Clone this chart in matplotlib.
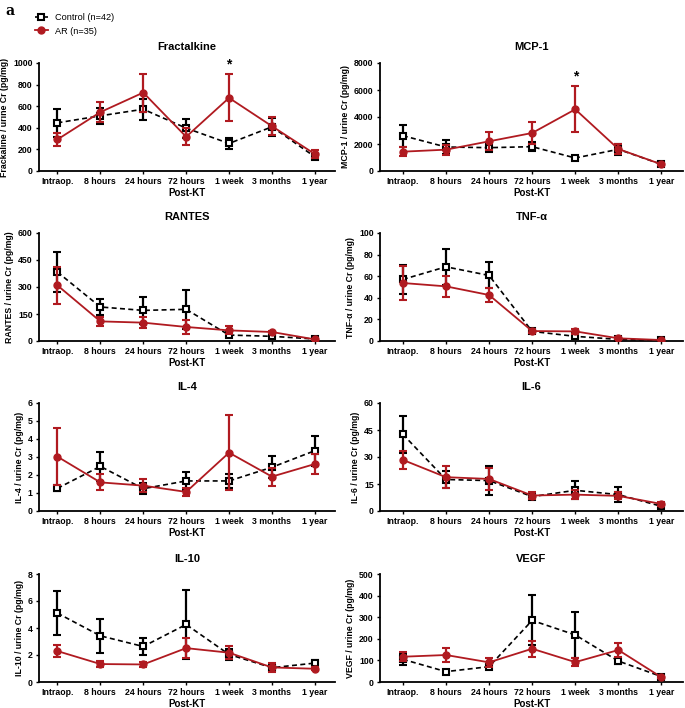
import matplotlib
matplotlib.use("Agg")
import matplotlib.pyplot as plt
from matplotlib.lines import Line2D
import numpy as np

plt.rcParams['font.family'] = ['Liberation Sans', 'DejaVu Sans']

categories = ["Intraop.", "8 hours", "24 hours", "72 hours", "1 week", "3 months", "1 year"]

# Fractalkine
frac_ctrl = [446, 511, 572, 397, 255, 409, 132]
frac_ctrl_err = [130, 75, 99, 89, 53, 85, 20]
frac_ar = [292, 545, 726, 317, 677, 415, 157]
frac_ar_err = [62, 90, 176, 77, 218, 85, 37]
# MCP-1
mcp_ctrl = [2617, 1778, 1728, 1802, 963, 1605, 494]
mcp_ctrl_err = [815, 540, 350, 320, 100, 420, 80]
mcp_ar = [1432, 1580, 2198, 2815, 4568, 1630, 494]
mcp_ar_err = [350, 380, 670, 790, 1700, 400, 60]
# RANTES
rantes_ctrl = [383, 189, 170, 176, 33, 26, 11]
rantes_ctrl_err = [110, 46, 74, 109, 8, 5, 3]
rantes_ar = [309, 109, 102, 78, 59, 50, 9]
rantes_ar_err = [102, 25, 31, 37, 22, 8, 3]
# TNF-a
tnf_ctrl = [57, 68.7, 60.7, 8.9, 4.3, 1.5, 0.6]
tnf_ctrl_err = [13.5, 16.5, 12, 1.5, 1, 0.5, 0.3]
tnf_ar = [53.7, 50.6, 42.6, 9.2, 8.9, 2.5, 0.9]
tnf_ar_err = [16, 9.5, 6.5, 1.5, 2, 0.8, 0.4]
# IL-4
il4_ctrl = [1.26, 2.48, 1.24, 1.67, 1.67, 2.43, 3.35]
il4_ctrl_err = [0.15, 0.8, 0.3, 0.52, 0.4, 0.6, 0.83]
il4_ar = [3.02, 1.59, 1.41, 1.06, 3.24, 1.91, 2.61]
il4_ar_err = [1.6, 0.45, 0.35, 0.2, 2.1, 0.5, 0.57]
# IL-6
il6_ctrl = [42.6, 17.5, 16.9, 8.0, 11.5, 9.1, 2.6]
il6_ctrl_err = [10.4, 4.5, 8, 1.5, 5, 4, 0.6]
il6_ar = [28.4, 18.8, 17.8, 8.6, 9.1, 8.4, 3.9]
il6_ar_err = [5, 6, 6, 2, 2.5, 2, 1]
# IL-10
il10_ctrl = [5.1, 3.42, 2.63, 4.26, 2.04, 1.06, 1.4]
il10_ctrl_err = [1.63, 1.26, 0.6, 2.55, 0.4, 0.15, 0.2]
il10_ar = [2.29, 1.33, 1.3, 2.51, 2.17, 1.08, 0.98]
il10_ar_err = [0.42, 0.25, 0.2, 0.74, 0.5, 0.35, 0.1]
# VEGF
vegf_ctrl = [105, 48, 71, 285, 218, 97, 25]
vegf_ctrl_err = [25, 8, 10, 116, 108, 15, 5]
vegf_ar = [117, 125, 91, 154, 92, 148, 22]
vegf_ar_err = [21, 33, 20, 38, 18, 34, 5]

panels = [
    ("Fractalkine", "Frackaline / urine Cr (pg/mg)", frac_ctrl, frac_ctrl_err, frac_ar, frac_ar_err, [0, 200, 400, 600, 800, 1000], (4, 985)),
    ("MCP-1", "MCP-1 / urine Cr (pg/mg)", mcp_ctrl, mcp_ctrl_err, mcp_ar, mcp_ar_err, [0, 2000, 4000, 6000, 8000], (4, 7000)),
    ("RANTES", "RANTES / urine Cr (pg/mg)", rantes_ctrl, rantes_ctrl_err, rantes_ar, rantes_ar_err, [0, 150, 300, 450, 600], None),
    ("TNF-α", "TNF-α / urine Cr (pg/mg)", tnf_ctrl, tnf_ctrl_err, tnf_ar, tnf_ar_err, [0, 20, 40, 60, 80, 100], None),
    ("IL-4", "IL-4 / urine Cr (pg/mg)", il4_ctrl, il4_ctrl_err, il4_ar, il4_ar_err, [0, 1, 2, 3, 4, 5, 6], None),
    ("IL-6", "IL-6 / urine Cr (pg/mg)", il6_ctrl, il6_ctrl_err, il6_ar, il6_ar_err, [0, 15, 30, 45, 60], None),
    ("IL-10", "IL-10 / urine Cr (pg/mg)", il10_ctrl, il10_ctrl_err, il10_ar, il10_ar_err, [0, 2, 4, 6, 8], None),
    ("VEGF", "VEGF / urine Cr (pg/mg)", vegf_ctrl, vegf_ctrl_err, vegf_ar, vegf_ar_err, [0, 100, 200, 300, 400, 500], None),
]

RED = "#b01a20"
W, H = 685, 708
fig = plt.figure(figsize=(W / 100, H / 100), dpi=100)

row_bottoms = [171, 341, 511, 682]
ax_h = 108
x = np.arange(len(categories))

for i, (title, ylab, c, ce, a, ae, yticks, star) in enumerate(panels):
    row, col = divmod(i, 2)
    if col == 0:
        left_px, right_px, xl = 39, 335, (-0.43, 6.47)
    else:
        left_px, right_px, xl = 380, 683, (-0.53, 6.5)
    bottom_px = row_bottoms[row]
    ax = fig.add_axes([left_px / W, 1 - bottom_px / H, (right_px - left_px) / W, ax_h / H])
    ax.errorbar(x, c, yerr=ce, color="black", ls=(0, (3, 2)), lw=1.2, marker="s", ms=5,
                mfc="white", mec="black", mew=1.5, ecolor="black", elinewidth=1.6,
                capsize=3, capthick=1.5, zorder=3)
    ax.errorbar(x, a, yerr=ae, color=RED, ls="-", lw=1.3, marker="o", ms=5,
                mfc=RED, mec=RED, ecolor=RED, elinewidth=1.6,
                capsize=3, capthick=1.5, zorder=4)
    ax.set_xlim(*xl)
    ax.set_ylim(yticks[0], yticks[-1])
    ax.set_yticks(yticks)
    ax.set_yticklabels([str(t) for t in yticks], fontsize=6.3, fontweight="bold")
    ax.set_xticks(x)
    ax.set_xticklabels(categories, fontsize=6.3, fontweight="bold")
    ax.tick_params(axis="both", length=2.5, width=1, pad=2, direction="out")
    for s in ("top", "right"):
        ax.spines[s].set_visible(False)
    for s in ("left", "bottom"):
        ax.spines[s].set_linewidth(1.3)
    ax.set_title(title, fontsize=8, fontweight="bold", pad=9)
    ax.set_ylabel(ylab, fontsize=6.3, fontweight="bold", labelpad=3)
    ax.set_xlabel("Post-KT", fontsize=7, fontweight="bold", labelpad=1)
    if star is not None:
        ax.text(star[0], star[1], "*", ha="center", va="center", fontsize=10, fontweight="bold",
                clip_on=False)

fig.text(5 / W, 1 - 11 / H, "a", fontsize=10, fontweight="bold", family="DejaVu Serif",
         va="center", ha="left")

handles = [
    Line2D([], [], color="black", ls=(0, (2, 1)), lw=1.2, marker="s", ms=4.5, mfc="white", mec="black", mew=1.5),
    Line2D([], [], color=RED, ls="-", lw=1.3, marker="o", ms=5, mfc=RED, mec=RED),
]
fig.legend(handles, ["Control (n=42)", "AR (n=35)"], loc="upper left",
           bbox_to_anchor=(35 / W, 1 - 13 / H), frameon=False, fontsize=6.6,
           handlelength=1.4, handletextpad=0.8, labelspacing=0.5, borderpad=0, borderaxespad=0)

fig.savefig("out.png", dpi=100)
